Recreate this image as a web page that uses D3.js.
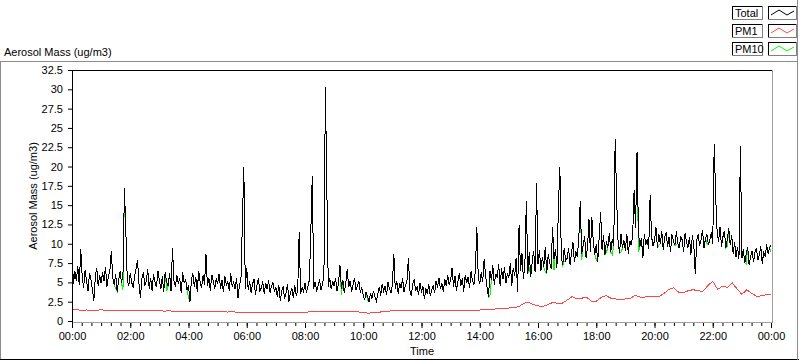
<!DOCTYPE html>
<html>
<head>
<meta charset="utf-8">
<script src="https://cdn.jsdelivr.net/npm/d3@7"></script>
<style>
  body { margin: 0; background: #fff; }
  svg text { font-family: "Liberation Sans", Arial, sans-serif; font-size: 11px; fill: #000; }
  .trace { fill: none; stroke-width: 1; shape-rendering: crispEdges; }
</style>
</head>
<body>
<div id="vis"></div>
<script>
// one Total / PM10 sample every 3 minutes, PM1 every 10 minutes (minutes since 00:00)
const STEP_TOTAL = 3;
const STEP_PM1 = 10;

const total = [
  9.0, 4.8, 6.4, 5.2, 7.1, 4.6, 9.3, 5.8, 4.3, 6.6, 5.1, 3.9, 6.2, 5.4, 4.1, 2.6, 5.7, 6.9, 4.5, 5.9,
  4.9, 6.3, 5.2, 7.0, 4.4, 5.8, 6.5, 9.1, 5.6, 4.7, 6.1, 3.8, 5.3, 6.4, 4.9, 6.0, 17.2, 11.4, 5.1, 4.6,
  6.2, 5.0, 4.3, 5.9, 6.8, 7.9, 4.8, 3.0, 5.5, 6.3, 4.6, 5.2, 6.7, 4.2, 5.6, 3.9, 6.1, 5.0, 4.4, 6.5,
  5.3, 4.1, 5.8, 3.7, 6.4, 5.0, 4.5, 6.2, 3.9, 9.4, 5.2, 4.4, 6.0, 4.8, 5.5, 3.6, 6.3, 4.9, 5.4, 4.0,
  4.6, 2.5, 5.3, 6.2, 4.4, 5.7, 3.8, 6.5, 5.0, 4.3, 5.9, 4.7, 8.7, 4.5, 5.6, 3.9, 6.0, 5.2, 4.1, 5.5,
  4.8, 6.1, 4.2, 5.3, 3.7, 5.8, 4.6, 5.1, 3.9, 6.2, 4.4, 5.0, 4.1, 5.6, 3.0, 4.7, 5.3, 12.8, 20.0, 4.2,
  6.9, 4.0, 5.2, 3.6, 4.8, 5.4, 3.4, 4.6, 5.5, 3.9, 4.3, 5.1, 3.5, 4.9, 4.1, 5.3, 3.7, 4.5, 5.0, 3.8,
  4.4, 3.1, 4.7, 2.6, 3.9, 4.5, 2.9, 3.6, 4.8, 2.5, 3.7, 4.2, 3.0, 4.6, 3.3, 4.0, 11.5, 3.5, 4.3, 3.8,
  4.9, 3.7, 4.5, 5.3, 11.6, 18.8, 4.2, 5.1, 3.8, 4.6, 5.4, 4.0, 4.8, 5.7, 30.3, 17.1, 4.4, 5.6, 4.1, 5.2,
  4.5, 5.5, 3.9, 4.8, 7.3, 4.2, 5.3, 3.6, 4.9, 6.7, 4.4, 5.2, 3.8, 4.7, 5.6, 4.0, 4.6, 5.1, 3.7, 4.3,
  3.4, 2.7, 3.8, 3.1, 2.5, 3.6, 2.9, 3.9, 3.2, 2.6, 3.5, 4.4, 3.3, 4.8, 3.9, 4.5, 3.4, 5.0, 4.2, 3.6,
  4.7, 8.7, 4.1, 5.2, 3.5, 4.9, 4.3, 5.5, 3.8, 4.6, 5.1, 8.2, 4.0, 3.3, 4.8, 5.4, 3.9, 4.4, 3.4, 4.9,
  3.7, 4.5, 2.8, 4.2, 3.5, 4.8, 3.2, 4.0, 4.6, 3.6, 5.2, 4.3, 5.6, 4.1, 4.9, 3.7, 5.4, 4.5, 6.0, 4.7,
  5.3, 6.9, 4.4, 5.8, 3.9, 5.1, 6.2, 4.6, 5.5, 3.8, 6.0, 4.9, 5.7, 4.3, 6.4, 5.2, 4.7, 6.6, 12.2, 5.5,
  4.8, 6.3, 5.0, 8.0, 5.9, 4.4, 3.1, 6.5, 5.3, 7.2, 4.7, 6.1, 5.6, 7.4, 4.5, 6.8, 5.4, 7.0, 4.9, 6.2,
  5.6, 7.5, 4.6, 6.9, 5.8, 8.2, 3.8, 12.4, 6.5, 8.8, 5.4, 7.3, 15.6, 6.1, 8.9, 5.7, 7.6, 9.1, 6.3, 17.9,
  7.4, 9.2, 6.5, 8.3, 7.0, 9.6, 6.2, 8.6, 7.5, 6.8, 12.2, 8.0, 9.3, 6.9, 14.6, 20.0, 8.4, 7.2, 9.5, 7.8,
  8.1, 9.4, 7.3, 8.8, 10.2, 7.6, 9.0, 8.3, 10.6, 15.5, 8.7, 9.8, 11.0, 8.2, 9.5, 13.2, 8.9, 13.4, 10.1, 8.6,
  9.9, 7.7, 10.8, 14.1, 9.2, 11.1, 8.6, 10.3, 9.5, 11.4, 8.9, 10.6, 9.7, 23.6, 15.9, 10.2, 8.8, 11.2, 9.4, 10.5,
  9.1, 11.3, 8.7, 10.4, 9.8, 11.0, 16.9, 12.0, 21.9, 11.5, 9.6, 10.8, 8.1, 11.2, 9.9, 10.6, 9.3, 16.3, 10.9, 9.7,
  10.4, 12.1, 9.5, 11.3, 10.0, 11.7, 9.2, 10.8, 11.5, 9.6, 10.9, 8.9, 11.2, 10.3, 9.8, 11.6, 10.1, 9.4, 11.0, 10.5,
  9.0, 11.4, 10.2, 9.5, 10.9, 8.6, 11.1, 9.8, 6.1, 10.4, 11.3, 9.7, 10.6, 11.8, 9.4, 10.7, 11.2, 9.9, 10.5, 11.5,
  10.0, 22.9, 16.1, 11.6, 10.3, 12.2, 9.6, 10.9, 11.7, 9.4, 10.6, 12.0, 9.8, 11.1, 8.7, 10.2, 8.3, 9.6, 8.0, 22.6,
  8.1, 9.3, 7.5, 8.8, 9.6, 7.2, 8.4, 9.1, 7.7, 8.9, 9.4, 7.9, 8.6, 9.7, 7.4, 9.0, 8.3, 9.9, 8.7, 9.5,
  9.8
];

const pm1 = [
  1.42, 1.45, 1.40, 1.43, 1.38, 1.41, 1.44, 1.39, 1.42, 1.37, 1.40, 1.38,
  1.36, 1.39, 1.35, 1.33, 1.36, 1.30, 1.32, 1.28, 1.31, 1.27, 1.29, 1.25,
  1.28, 1.24, 1.26, 1.22, 1.25, 1.20, 1.18, 1.21, 1.16, 1.19, 1.14, 1.12,
  1.10, 1.13, 1.08, 1.11, 1.06, 1.09, 1.05, 1.08, 1.04, 1.07, 1.10, 1.08,
  1.14, 1.18, 1.22, 1.25, 1.21, 1.26, 1.23, 1.20, 1.24, 1.19, 1.22, 1.18,
  1.08, 1.02, 1.06, 1.12, 1.20, 1.27, 1.32, 1.36, 1.33, 1.37, 1.34, 1.38,
  1.35, 1.33, 1.37, 1.34, 1.31, 1.35, 1.38, 1.34, 1.36, 1.39, 1.42, 1.40,
  1.42, 1.45, 1.48, 1.55, 1.62, 1.65, 1.68, 1.72, 1.85, 2.25, 2.45, 2.15,
  1.95, 1.90, 2.10, 2.40, 2.30, 2.30, 2.70, 3.15, 2.85, 2.95, 3.10, 2.55,
  2.55, 3.05, 3.30, 2.95, 2.85, 2.80, 2.85, 2.90, 3.35, 3.10, 3.10, 3.15,
  3.20, 3.15, 3.60, 4.10, 4.30, 3.70, 3.65, 3.95, 4.05, 3.90, 3.85, 4.60,
  5.15, 4.10, 4.50, 4.35, 4.95, 4.15, 3.45, 4.05, 3.60, 3.20, 3.25, 3.40,
  3.50
];

// PM10 follows Total except at the samples where the green trace shows below it
const pm10Dips = [
  [30, 4.2], [35, 4.0], [65, 3.9], [80, 3.0], [185, 3.4], [203, 2.6],
  [287, 3.3], [314, 7.0], [325, 6.3], [331, 6.6], [338, 7.7], [350, 7.9],
  [360, 8.0], [367, 8.9], [371, 8.6], [377, 8.9], [389, 8.9], [403, 9.8],
  [415, 9.9], [436, 10.0], [450, 9.6], [463, 7.4], [480, 9.0]
];

const xMajorTicks = [0, 120, 240, 360, 480, 600, 720, 840, 960, 1080, 1200, 1320, 1440];
const xTickLabels = ["00:00", "02:00", "04:00", "06:00", "08:00", "10:00", "12:00",
  "14:00", "16:00", "18:00", "20:00", "22:00", "00:00"];
const yTicks = [0, 2.5, 5, 7.5, 10, 12.5, 15, 17.5, 20, 22.5, 25, 27.5, 30, 32.5];

const seriesNames = ["Total", "PM1", "PM10"];
const seriesColors = ["#000000", "#ff4646", "#00ff00"];

const W = 800, H = 361;
const PLOT = { left: 72, right: 771, top: 70, bottom: 321 };

const svg = d3.select("#vis").append("svg")
  .attr("width", W)
  .attr("height", H);

const x = d3.scaleLinear().domain([0, 1440]).range([PLOT.left, PLOT.right]);
const y = d3.scaleLinear().domain([0, 32.5]).range([PLOT.bottom, PLOT.top]);

// outer panel frame
const frame = svg.append("g").attr("shape-rendering", "crispEdges");
frame.append("line").attr("x1", 0).attr("x2", 797).attr("y1", 61.5).attr("y2", 61.5).attr("stroke", "#8c8c8c");
frame.append("line").attr("x1", 0.5).attr("x2", 0.5).attr("y1", 61).attr("y2", 360).attr("stroke", "#8c8c8c");
frame.append("line").attr("x1", 0).attr("x2", 799).attr("y1", 359.5).attr("y2", 359.5).attr("stroke", "#000");
frame.append("line").attr("x1", 797.5).attr("x2", 797.5).attr("y1", 0).attr("y2", 360).attr("stroke", "#8c8c8c");

svg.append("text")
  .attr("x", 4)
  .attr("y", 56)
  .text("Aerosol Mass (ug/m3)");

// traces: PM1, then PM10, Total on top
const line = (step) => d3.line()
  .x((d, i) => x(i * step))
  .y(d => y(d));

const plot = svg.append("g");
plot.append("path")
  .datum(pm1)
  .attr("class", "trace")
  .attr("stroke", seriesColors[1])
  .attr("d", line(STEP_PM1));

const pm10 = total.slice();
pm10Dips.forEach(([i, v]) => { pm10[i] = v; });
plot.append("path")
  .datum(pm10)
  .attr("class", "trace")
  .attr("stroke", seriesColors[2])
  .attr("d", line(STEP_TOTAL));

plot.append("path")
  .datum(total)
  .attr("class", "trace")
  .attr("stroke", seriesColors[0])
  .attr("d", line(STEP_TOTAL));

// plot border: dark top/left, light bottom/right
const border = svg.append("g").attr("shape-rendering", "crispEdges");
border.append("line").attr("x1", PLOT.left).attr("x2", PLOT.right + 2).attr("y1", 70.5).attr("y2", 70.5).attr("stroke", "#000");
border.append("line").attr("x1", 72.5).attr("x2", 72.5).attr("y1", 70).attr("y2", 323).attr("stroke", "#000");
border.append("line").attr("x1", 772.5).attr("x2", 772.5).attr("y1", 70).attr("y2", 323).attr("stroke", "#a0a0a0");
border.append("line").attr("x1", 73).attr("x2", 773).attr("y1", 322.5).attr("y2", 322.5).attr("stroke", "#a0a0a0");

// axes
svg.append("g")
  .attr("transform", `translate(${PLOT.left},0)`)
  .call(d3.axisLeft(y).tickValues(yTicks).tickSize(4).tickPadding(5).tickFormat(d => String(d)))
  .call(g => g.select(".domain").remove())
  .call(g => g.selectAll("text").attr("font-size", null).attr("font-family", null));

svg.append("g")
  .attr("transform", "translate(0,323)")
  .call(d3.axisBottom(x).tickValues(d3.range(0, 1441, 20)).tickSize(3).tickFormat(""))
  .call(g => g.select(".domain").remove());

svg.append("g")
  .attr("transform", "translate(0,323)")
  .call(d3.axisBottom(x).tickValues(xMajorTicks).tickSize(5).tickPadding(4)
    .tickFormat((d, i) => xTickLabels[i]))
  .call(g => g.select(".domain").remove())
  .call(g => g.selectAll("text").attr("font-size", null).attr("font-family", null));

svg.append("text")
  .attr("transform", "translate(37,196) rotate(-90)")
  .attr("text-anchor", "middle")
  .text("Aerosol Mass (ug/m3)");

svg.append("text")
  .attr("x", 422)
  .attr("y", 355)
  .attr("text-anchor", "middle")
  .text("Time");

// legend
const legend = svg.append("g").attr("shape-rendering", "crispEdges");
const rowsY = [6, 24, 42];
const box = (g, x0, y0, w, h) => {
  g.append("rect").attr("x", x0).attr("y", y0).attr("width", w).attr("height", h).attr("fill", "#fff");
  g.append("line").attr("x1", x0 + 0.5).attr("x2", x0 + 0.5).attr("y1", y0).attr("y2", y0 + h).attr("stroke", "#000");
  g.append("line").attr("x1", x0).attr("x2", x0 + w).attr("y1", y0 + 0.5).attr("y2", y0 + 0.5).attr("stroke", "#000");
  g.append("line").attr("x1", x0 + w - 0.5).attr("x2", x0 + w - 0.5).attr("y1", y0).attr("y2", y0 + h).attr("stroke", "#808080");
  g.append("line").attr("x1", x0).attr("x2", x0 + w).attr("y1", y0 + h - 0.5).attr("y2", y0 + h - 0.5).attr("stroke", "#808080");
};
seriesNames.forEach((name, k) => {
  const y0 = rowsY[k];
  box(legend, 732, y0, 31, 14);
  legend.append("text")
    .attr("x", 735)
    .attr("y", y0 + 11)
    .text(name);
  box(legend, 768, y0, 29, 14);
  legend.append("path")
    .attr("d", `M771,${y0 + 9}L779,${y0 + 4}L787,${y0 + 9}L794,${y0 + 5}`)
    .attr("fill", "none")
    .attr("stroke", seriesColors[k])
    .attr("shape-rendering", "auto");
});
</script>
</body>
</html>
